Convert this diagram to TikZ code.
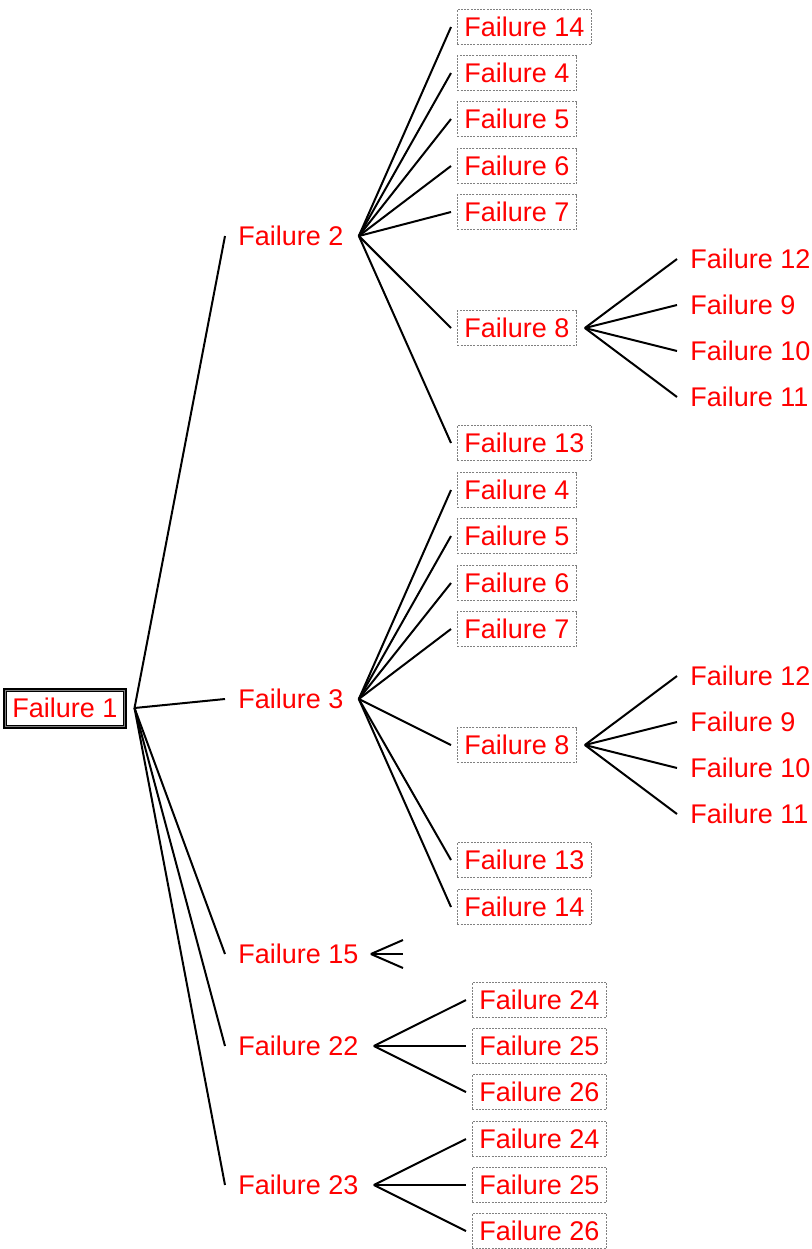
\documentclass[tikz,border=0pt]{standalone}
\usepackage{fontspec}
\setmainfont{Liberation Sans}
\begin{document}
\begin{tikzpicture}[x=0.5pt,y=-0.5pt,
  base/.style={anchor=west,font=\fontsize{13.5pt}{16pt}\selectfont,text=red,
    inner xsep=3.5pt,inner ysep=0pt,minimum height=17.5pt,text height=9.7pt,text depth=0pt},
  plain/.style={base},
  boxed/.style={base,draw=gray,line width=0.4pt,dash pattern=on 1pt off 0.6pt},
  root/.style={base,anchor=center,draw=black,line width=2pt,minimum height=18.5pt},
  link/.style={line width=1pt,black}]
\useasboundingbox (0,0) rectangle (811,1249);

% root
\node[root] (f1) at (65,708) {Failure 1};
\draw[gray,line width=0.4pt] ([shift={(2.4,-2.4)}]f1.south west) rectangle ([shift={(-2.4,2.4)}]f1.north east);

% first level
\node[plain] (f2)  at (231,236)  {Failure 2};
\node[plain] (f3)  at (231,699)  {Failure 3};
\node[plain] (f15) at (231,954)  {Failure 15};
\node[plain] (f22) at (231,1046) {Failure 22};
\node[plain] (f23) at (231,1185) {Failure 23};

% children of Failure 2
\node[boxed] (a14) at (457,27)  {Failure 14};
\node[boxed] (a4)  at (457,73)  {Failure 4};
\node[boxed] (a5)  at (457,119) {Failure 5};
\node[boxed] (a6)  at (457,166) {Failure 6};
\node[boxed] (a7)  at (457,212) {Failure 7};
\node[boxed] (a8)  at (457,328) {Failure 8};
\node[boxed] (a13) at (457,443) {Failure 13};
\node[plain] (a8a) at (683,259) {Failure 12};
\node[plain] (a8b) at (683,305) {Failure 9};
\node[plain] (a8c) at (683,351) {Failure 10};
\node[plain] (a8d) at (683,397) {Failure 11};

% children of Failure 3
\node[boxed] (b4)  at (457,490) {Failure 4};
\node[boxed] (b5)  at (457,536) {Failure 5};
\node[boxed] (b6)  at (457,583) {Failure 6};
\node[boxed] (b7)  at (457,629) {Failure 7};
\node[boxed] (b8)  at (457,745) {Failure 8};
\node[boxed] (b13) at (457,860) {Failure 13};
\node[boxed] (b14) at (457,907) {Failure 14};
\node[plain] (b8a) at (683,676) {Failure 12};
\node[plain] (b8b) at (683,722) {Failure 9};
\node[plain] (b8c) at (683,768) {Failure 10};
\node[plain] (b8d) at (683,814) {Failure 11};

% children of Failure 22 and Failure 23
\node[boxed] (c24) at (472,1000) {Failure 24};
\node[boxed] (c25) at (472,1046) {Failure 25};
\node[boxed] (c26) at (472,1092) {Failure 26};
\node[boxed] (d24) at (472,1139) {Failure 24};
\node[boxed] (d25) at (472,1185) {Failure 25};
\node[boxed] (d26) at (472,1231) {Failure 26};

% collapsed branch of Failure 15
\coordinate (g1) at (403,940);
\coordinate (g2) at (403,954);
\coordinate (g3) at (403,968);

% connectors
\foreach \p/\c in {f1/f2,f1/f3,f1/f15,f1/f22,f1/f23,
  f2/a14,f2/a4,f2/a5,f2/a6,f2/a7,f2/a8,f2/a13,
  a8/a8a,a8/a8b,a8/a8c,a8/a8d,
  f3/b4,f3/b5,f3/b6,f3/b7,f3/b8,f3/b13,f3/b14,
  b8/b8a,b8/b8b,b8/b8c,b8/b8d,
  f22/c24,f22/c25,f22/c26,
  f23/d24,f23/d25,f23/d26}
  \draw[link] ([xshift=4pt]\p.east) -- ([xshift=-3pt]\c.west);
\foreach \c in {g1,g2,g3}
  \draw[link] ([xshift=2.5pt]f15.east) -- (\c);
\end{tikzpicture}
\end{document}
